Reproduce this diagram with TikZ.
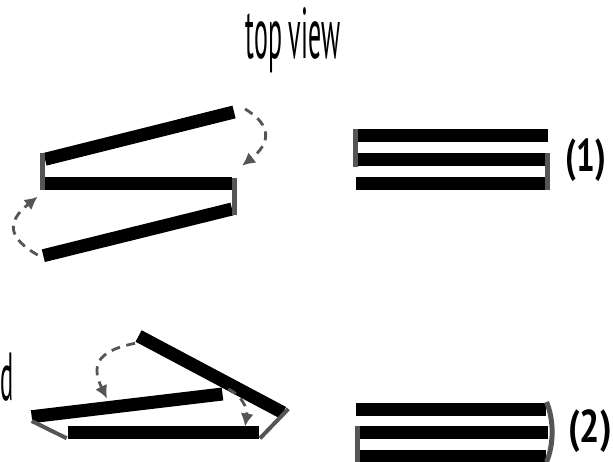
\documentclass[tikz,border=0pt]{standalone}
\usepackage{fontspec}
\setmainfont{PT Sans}
\usetikzlibrary{arrows.meta}
\definecolor{hinge}{HTML}{555555}
\tikzset{
  plate/.style={black,line width=13pt},
  hingeline/.style={hinge,line width=5pt},
  fold/.style={hinge,line width=2.8pt,dash pattern=on 9pt off 6.5pt,-{Latex[length=13pt,width=13pt]}},
  hand/.style={inner sep=0pt,font=\fontsize{#1}{#1}\selectfont}
}
\begin{document}
\begin{tikzpicture}[x=1pt,y=-1pt]
\useasboundingbox (0,0) rectangle (613,462);
\clip (0,0) rectangle (613,462);
% labels
\node [hand=72,xscale=0.36] (title) at (293,40) {top view};
\node [hand=68,xscale=0.36,anchor=west] (partial) at (0,377) {d};
\node [hand=46,xscale=0.72] (one) at (586,160) {\bfseries (1)};
\node [hand=46,xscale=0.78] (two) at (590,431) {\bfseries (2)};
% open, upper left
\draw [plate] (45,159.3) -- (234,112);
\draw [plate] (45,184) -- (232,184);
\draw [plate] (43.3,255.7) -- (232,209);
\draw [hingeline] (42.6,153) -- (42.6,190.5);
\draw [hingeline] (234.6,178) -- (234.6,215);
\coordinate (a1) at (245,109);
\coordinate (a2) at (242,165.7);
\coordinate (a3) at (37.7,255);
\coordinate (a4) at (37.7,196.7);
\draw [fold] (a1) .. controls (272,125) and (271,143) .. (a2);
\draw [fold] (a3) .. controls (8,238) and (6,222) .. (a4);
% closed, upper right
\draw [plate] (357.7,136) -- (548.3,136);
\draw [plate] (357.7,159.7) -- (545,159.7);
\draw [plate] (355.7,183.8) -- (545,183.8);
\draw [hingeline] (355.5,129.3) -- (355.5,166.7);
\draw [hingeline] (547.5,153.3) -- (547.5,190.5);
% open, lower left
\draw [plate] (138.6,336) -- (283,412.7);
\draw [plate] (31.7,416.7) -- (222.5,394);
\draw [plate] (67.7,432.7) -- (259.3,432.7);
\draw [hingeline,line width=4pt] (31.7,421) -- (66.7,438.3);
\draw [hingeline,line width=4pt] (260,438.3) -- (288.3,409);
\coordinate (b1) at (135,343.3);
\coordinate (b2) at (107,398.5);
\coordinate (b3) at (228.3,389);
\coordinate (b4) at (245,426.5);
\draw [fold] (b1) .. controls (102,350) and (89,362) .. (b2);
\draw [fold] (b3) .. controls (240,394) and (248,408) .. (b4);
% closed, lower right
\draw [plate] (356,409) -- (546,409);
\draw [plate] (360,432.8) -- (548,432.8);
\draw [plate] (360,456.3) -- (546,456.3);
\draw [hingeline] (357.5,426) -- (357.5,462);
\draw [hingeline] (546.5,402) .. controls (554,420) and (554,444) .. (546.5,462);
\end{tikzpicture}
\end{document}
